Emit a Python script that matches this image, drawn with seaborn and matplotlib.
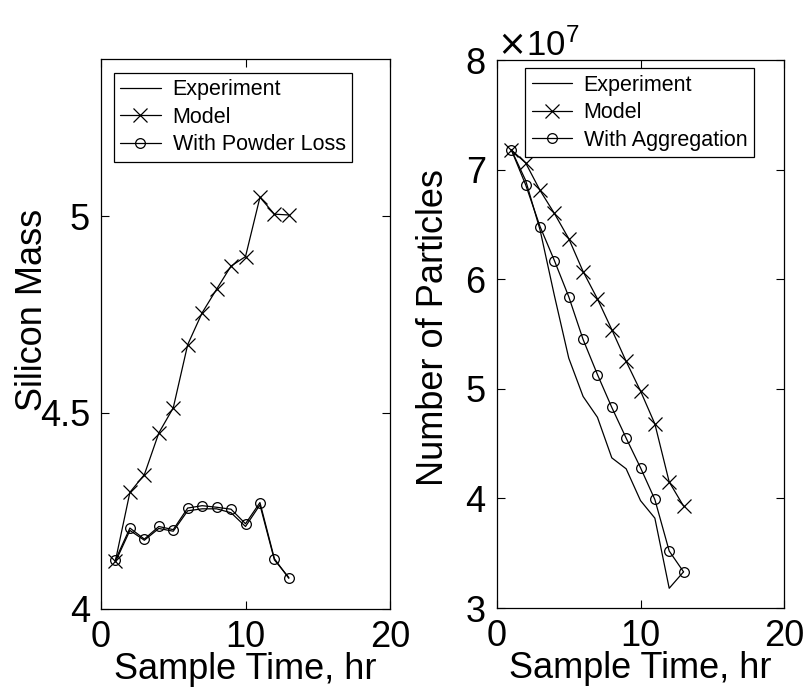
import numpy as np
import pandas as pd
import matplotlib
matplotlib.use("Agg")
import matplotlib.pyplot as plt
import matplotlib.ticker as mticker
import seaborn as sns

# --- data ---
hours = [1, 2, 3, 4, 5, 6, 7, 8, 9, 10, 11, 12, 13]

si_experiment = [4.12, 4.20, 4.175, 4.205, 4.198, 4.25, 4.255, 4.255, 4.245, 4.21, 4.265, 4.125, 4.08]
si_model = [4.123, 4.297, 4.342, 4.448, 4.512, 4.673, 4.754, 4.814, 4.873, 4.897, 5.048, 5.005, 5.003]
si_powder_loss = [4.125, 4.206, 4.178, 4.210, 4.202, 4.257, 4.263, 4.259, 4.254, 4.217, 4.271, 4.128, 4.078]

np_experiment = [7.18, 6.90, 6.45, 5.85, 5.28, 4.93, 4.74, 4.37, 4.27, 3.98, 3.82, 3.18, 3.33]
np_model = [7.18, 7.06, 6.81, 6.60, 6.37, 6.07, 5.82, 5.54, 5.25, 4.98, 4.68, 4.15, 3.93]
np_aggregation = [7.18, 6.86, 6.48, 6.17, 5.84, 5.45, 5.13, 4.83, 4.55, 4.28, 3.99, 3.52, 3.33]
np_scale = 1e7

sns.set_style("ticks")
plt.rcParams['font.family'] = ['Liberation Sans', 'DejaVu Sans']
plt.rcParams['xtick.direction'] = 'in'
plt.rcParams['ytick.direction'] = 'in'
plt.rcParams['text.color'] = 'k'
plt.rcParams['axes.labelcolor'] = 'k'
plt.rcParams['xtick.color'] = 'k'
plt.rcParams['ytick.color'] = 'k'

fig = plt.figure(figsize=(8.1, 6.88), dpi=100)
ax1 = fig.add_axes([101 / 810, 79 / 688, 289 / 810, 550 / 688])
ax2 = fig.add_axes([497 / 810, 80 / 688, 287 / 810, 548 / 688])

lw = 0.9
x_style = dict(marker='x', markersize=10, markeredgewidth=0.9, markeredgecolor='k')
o_style = dict(marker='o', markersize=7, markerfacecolor='none', markeredgecolor='k',
               markeredgewidth=0.9)

# left panel: silicon mass
sns.lineplot(x=hours, y=si_experiment, ax=ax1, color='k', lw=lw, label='Experiment')
sns.lineplot(x=hours, y=si_model, ax=ax1, color='k', lw=lw, label='Model', **x_style)
sns.lineplot(x=hours, y=si_powder_loss, ax=ax1, color='k', lw=lw, label='With Powder Loss',
             **o_style)
ax1.set_xlim(0, 20)
ax1.set_ylim(4, 5.4)
ax1.set_xticks([0, 10, 20])
ax1.set_yticks([4, 4.5, 5])
ax1.yaxis.set_major_formatter(mticker.FuncFormatter(lambda v, p: f"{v:g}"))
ax1.set_xlabel("Sample Time, hr", fontsize=26, labelpad=-2)
ax1.set_ylabel("Silicon Mass", fontsize=26)
ax1.yaxis.set_label_coords(-0.178, 0.544)

# right panel: number of particles
np_exp = [v * np_scale for v in np_experiment]
np_mod = [v * np_scale for v in np_model]
np_agg = [v * np_scale for v in np_aggregation]
sns.lineplot(x=hours, y=np_exp, ax=ax2, color='k', lw=lw, label='Experiment')
sns.lineplot(x=hours, y=np_mod, ax=ax2, color='k', lw=lw, label='Model', **x_style)
sns.lineplot(x=hours, y=np_agg, ax=ax2, color='k', lw=lw, label='With Aggregation', **o_style)
ax2.set_xlim(0, 20)
ax2.set_ylim(3e7, 8e7)
ax2.set_xticks([0, 10, 20])
ax2.set_yticks([3e7, 4e7, 5e7, 6e7, 7e7, 8e7])
fmt = mticker.ScalarFormatter(useMathText=True)
fmt.set_powerlimits((0, 0))
ax2.yaxis.set_major_formatter(fmt)
ax2.yaxis.get_offset_text().set_fontsize(25)
ax2.set_xlabel("Sample Time, hr", fontsize=26, labelpad=-2)
ax2.set_ylabel("Number of Particles", fontsize=26)
ax2.yaxis.set_label_coords(-0.162, 0.511)

legend_spots = {ax1: (0.045, 0.975), ax2: (0.098, 0.985)}
for ax in (ax1, ax2):
    ax.tick_params(labelsize=26, length=6, width=0.8, top=True, right=True, pad=8)
    for s in ax.spines.values():
        s.set_linewidth(0.9)
        s.set_color('k')
    leg = ax.legend(loc='upper left', bbox_to_anchor=legend_spots[ax], borderaxespad=0,
                    fontsize=15.5, frameon=True, fancybox=False, edgecolor='k', framealpha=1,
                    handlelength=1.86, borderpad=0.3, labelspacing=0.3, handletextpad=0.56)
    leg.get_frame().set_linewidth(0.9)

fig.savefig("out.png", dpi=100)
